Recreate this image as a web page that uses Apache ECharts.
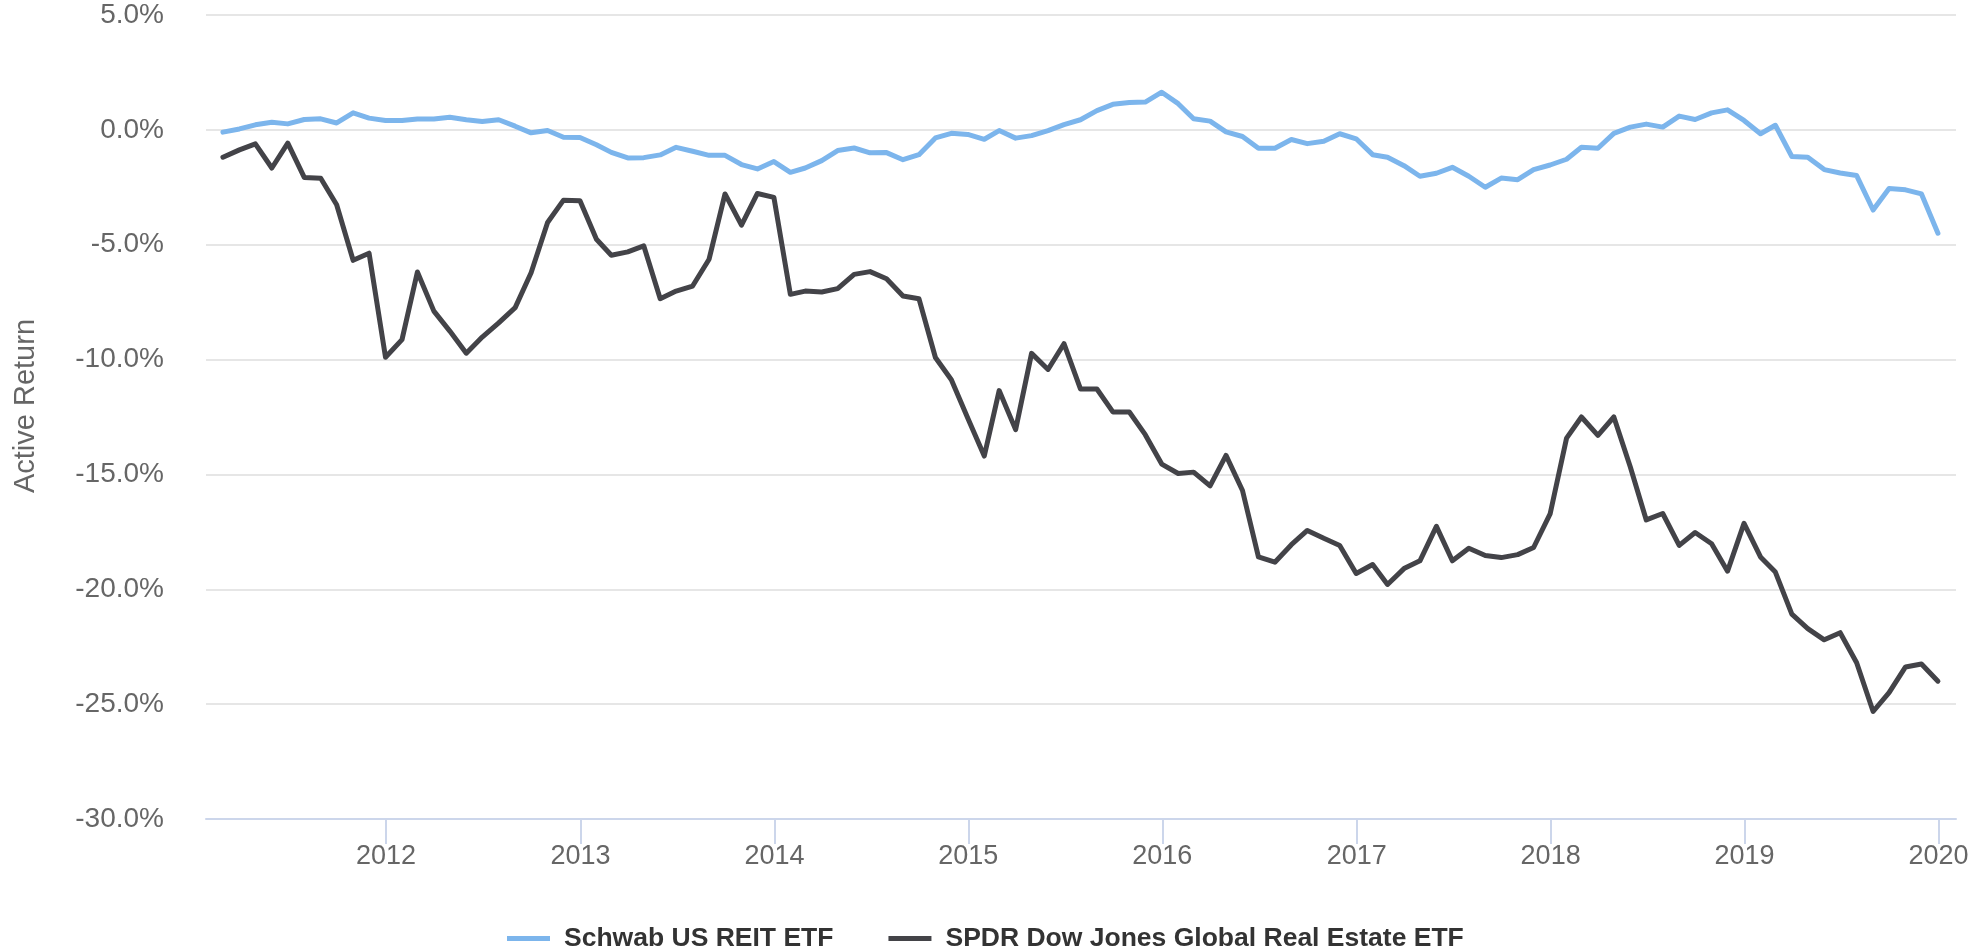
<!DOCTYPE html>
<html>
<head>
<meta charset="utf-8">
<script src="https://cdn.jsdelivr.net/npm/echarts@6/dist/echarts.min.js"></script>
<style>
  html, body { margin: 0; padding: 0; background: #ffffff; }
  #chart { width: 1979px; height: 952px; }
</style>
</head>
<body>
<div id="chart"></div>
<script>
// Month-end observations, Feb 2011 .. Dec 2019
const startYear = 2011;
const startMonth = 2; // February
const pointCount = 107;

const seriesNames = ['Schwab US REIT ETF', 'SPDR Dow Jones Global Real Estate ETF'];

// Active return (%) – Schwab US REIT ETF
const schwab = [
  -0.10, 0.04, 0.22, 0.33, 0.26, 0.45, 0.48, 0.30, 0.74, 0.51, 0.41,
  0.41, 0.47, 0.47, 0.55, 0.44, 0.36, 0.44, 0.16, -0.13, -0.03, -0.32, -0.33,
  -0.65, -0.98, -1.22, -1.21, -1.09, -0.76, -0.93, -1.11, -1.11, -1.51, -1.70, -1.38,
  -1.85, -1.66, -1.34, -0.90, -0.79, -1.00, -0.99, -1.30, -1.08, -0.35, -0.15, -0.20,
  -0.41, -0.03, -0.36, -0.25, -0.03, 0.23, 0.44, 0.84, 1.11, 1.19, 1.21, 1.64,
  1.14, 0.48, 0.38, -0.09, -0.29, -0.80, -0.80, -0.42, -0.60, -0.50, -0.17, -0.39,
  -1.08, -1.19, -1.56, -2.02, -1.89, -1.63, -2.02, -2.50, -2.10, -2.17, -1.73, -1.53,
  -1.28, -0.76, -0.80, -0.15, 0.12, 0.25, 0.12, 0.60, 0.45, 0.74, 0.87, 0.41,
  -0.17, 0.20, -1.16, -1.19, -1.73, -1.88, -1.99, -3.49, -2.55, -2.61, -2.79, -4.50
];

// Active return (%) – SPDR Dow Jones Global Real Estate ETF
const spdr = [
  -1.19, -0.87, -0.61, -1.66, -0.58, -2.07, -2.11, -3.26, -5.68, -5.37, -9.90,
  -9.13, -6.19, -7.89, -8.76, -9.72, -9.02, -8.40, -7.74, -6.22, -4.03, -3.06, -3.09,
  -4.76, -5.46, -5.31, -5.05, -7.35, -7.02, -6.80, -5.63, -2.79, -4.15, -2.77, -2.94,
  -7.16, -7.02, -7.06, -6.91, -6.29, -6.17, -6.48, -7.23, -7.35, -9.91, -10.88, -12.55,
  -14.20, -11.35, -13.05, -9.73, -10.43, -9.31, -11.28, -11.28, -12.28, -12.28, -13.27, -14.55,
  -14.96, -14.90, -15.50, -14.17, -15.70, -18.59, -18.82, -18.06, -17.44, -17.78, -18.09, -19.31,
  -18.92, -19.79, -19.10, -18.76, -17.26, -18.76, -18.21, -18.53, -18.62, -18.49, -18.18, -16.72,
  -13.42, -12.50, -13.30, -12.50, -14.68, -16.98, -16.70, -18.09, -17.53, -18.02, -19.21, -17.13,
  -18.59, -19.25, -21.08, -21.71, -22.20, -21.89, -23.20, -25.32, -24.50, -23.38, -23.25, -24.00
];

// x-axis tick labels
const yearTicks = [2012, 2013, 2014, 2015, 2016, 2017, 2018, 2019, 2020];

// y-axis range
const yMin = -30, yMax = 5, yStep = 5;

// category dates (last day of each month)
const dates = [];
for (let i = 0; i < pointCount; i++) {
  const m = startMonth - 1 + i;
  dates.push(new Date(startYear, m + 1, 0).getTime());
}
const tickValues = yearTicks.map(y => new Date(y, 0, 1).getTime());

const FONT = "'Liberation Sans', Arial, Helvetica, sans-serif";
const chart = echarts.init(document.getElementById('chart'), null, { renderer: 'canvas' });

chart.setOption({
  animation: false,
  backgroundColor: '#ffffff',
  grid: { left: 206, right: 23, top: 15, bottom: 133, containLabel: false },
  legend: {
    data: seriesNames,
    left: 502,
    top: 920,
    icon: 'rect',
    itemWidth: 43,
    itemHeight: 5,
    itemGap: 55,
    textStyle: { fontFamily: FONT, fontSize: 26.5, fontWeight: 'bold', color: '#333333', padding: [0, 0, 0, 9] }
  },
  xAxis: {
    type: 'value',
    min: new Date(2011, 0, 27, 2).getTime(),
    max: new Date(2020, 1, 3).getTime(),
    axisLine: { show: true, onZero: false, lineStyle: { color: '#ccd6eb', width: 2 } },
    axisTick: { show: true, length: 25, lineStyle: { color: '#ccd6eb', width: 2 }, customValues: tickValues },
    axisLabel: {
      customValues: tickValues,
      formatter: v => String(new Date(v).getFullYear()),
      fontFamily: FONT, fontSize: 27, color: '#666666', margin: 24
    },
    splitLine: { show: false }
  },
  yAxis: {
    type: 'value',
    min: yMin, max: yMax, interval: yStep,
    name: 'Active Return',
    nameLocation: 'middle',
    nameGap: 166,
    nameTextStyle: { fontFamily: FONT, fontSize: 29, color: '#666666', padding: [0, 0, 0, 22] },
    axisLine: { show: false },
    axisTick: { show: false },
    axisLabel: {
      formatter: v => v.toFixed(1) + '%',
      fontFamily: FONT, fontSize: 28, color: '#666666', margin: 42
    },
    splitLine: { show: true, lineStyle: { color: '#e6e6e6', width: 2 } }
  },
  series: [
    {
      name: seriesNames[0], type: 'line', showSymbol: false, symbol: 'none',
      data: dates.map((d, i) => [d, schwab[i]]),
      lineStyle: { color: '#7cb5ec', width: 5, join: 'round', cap: 'round' },
      itemStyle: { color: '#7cb5ec' }
    },
    {
      name: seriesNames[1], type: 'line', showSymbol: false, symbol: 'none',
      data: dates.map((d, i) => [d, spdr[i]]),
      lineStyle: { color: '#434348', width: 5, join: 'round', cap: 'round' },
      itemStyle: { color: '#434348' }
    }
  ]
});
</script>
</body>
</html>
